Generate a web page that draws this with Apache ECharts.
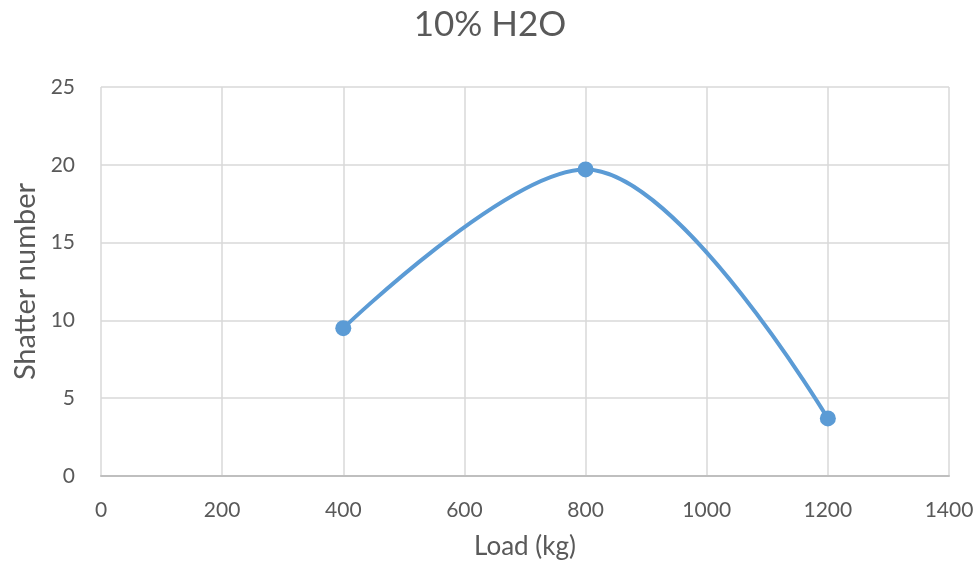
<!DOCTYPE html>
<html><head><meta charset="utf-8">
<script src="https://cdn.jsdelivr.net/npm/echarts@6/dist/echarts.min.js"></script>
<style>html,body{margin:0;padding:0;background:#fff}#c{width:980px;height:575px}</style>
</head><body><div id="c"></div>
<script>
const loads = [400, 800, 1200];
const shatter = [9.5, 19.7, 3.7];
const title = '10% H2O';
const xName = 'Load (kg)';
const yName = 'Shatter number';
const font = 'Lato, "Open Sans", sans-serif';
const chart = echarts.init(document.getElementById('c'));
chart.setOption({
  animation: false,
  title: {text: title, left: 'center', top: 2, textStyle: {fontFamily: font, fontSize: 35, fontWeight: 'normal', color: '#595959'}},
  grid: {left: 101, right: 31, top: 87, bottom: 99},
  xAxis: {
    type: 'value', min: 0, max: 1400, interval: 200,
    name: xName, nameLocation: 'middle', nameGap: 58,
    nameTextStyle: {fontFamily: font, fontSize: 26, color: '#595959'},
    axisLine: {show: true, onZero: false, lineStyle: {color: '#bfbfbf', width: 2}},
    axisTick: {show: false},
    axisLabel: {fontFamily: font, fontSize: 21, color: '#595959', margin: 24, formatter: v => String(v)},
    splitLine: {show: true, lineStyle: {color: '#d9d9d9', width: 1.5}}
  },
  yAxis: {
    type: 'value', min: 0, max: 25, interval: 5,
    name: yName, nameLocation: 'middle', nameGap: 61,
    nameTextStyle: {fontFamily: font, fontSize: 29, color: '#595959'},
    axisLine: {show: false},
    axisTick: {show: false},
    axisLabel: {fontFamily: font, fontSize: 21, color: '#595959', margin: 26},
    splitLine: {show: true, lineStyle: {color: '#d9d9d9', width: 1.5}}
  },
  series: [{
    type: 'line', smooth: 0.35,
    data: loads.map((x, i) => [x, shatter[i]]),
    symbol: 'circle', symbolSize: 16,
    lineStyle: {color: '#5b9bd5', width: 4},
    itemStyle: {color: '#5b9bd5'}
  }]
});
</script></body></html>
